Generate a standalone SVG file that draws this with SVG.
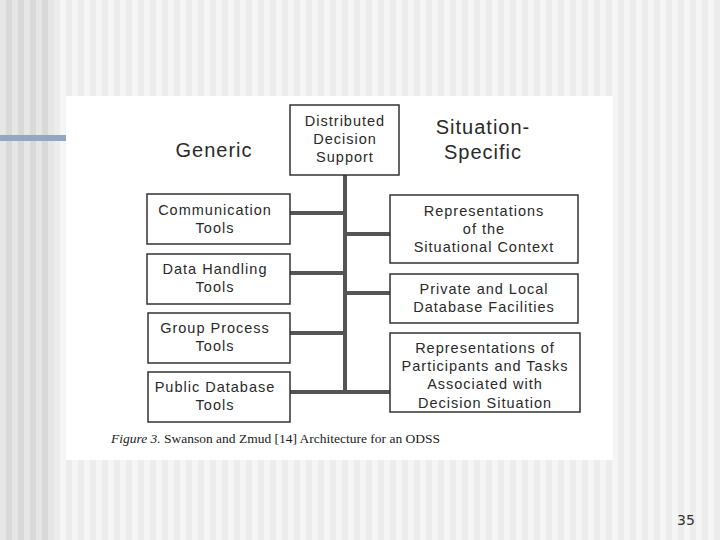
<svg xmlns="http://www.w3.org/2000/svg" width="720" height="540" viewBox="0 0 720 540">
<defs>
<pattern id="stripesDark" x="0" y="0" width="12" height="540" patternUnits="userSpaceOnUse">
<rect x="0" y="0" width="6" height="540" fill="#e6e6e6"/>
<rect x="6" y="0" width="6" height="540" fill="#d9d9d9"/>
</pattern>
<pattern id="stripesLight" x="0" y="0" width="12" height="540" patternUnits="userSpaceOnUse">
<rect x="0" y="0" width="6" height="540" fill="#f5f5f5"/>
<rect x="6" y="0" width="6" height="540" fill="#ececec"/>
</pattern>
<style>
.box{fill:#ffffff;stroke:#333333;stroke-width:1.5}
.t{font-family:"Liberation Sans",Arial,sans-serif;font-size:14.5px;letter-spacing:1px;fill:#2a2a2a;text-anchor:middle}
.big{font-family:"Liberation Sans",Arial,sans-serif;font-size:20px;letter-spacing:1px;fill:#2a2a2a;text-anchor:middle}
.conn{stroke:#555555;stroke-width:4;fill:none}
.cap{font-family:"Liberation Serif","Times New Roman",serif;font-size:13.5px;fill:#222222}
</style>
</defs>
<rect x="0" y="0" width="720" height="540" fill="url(#stripesLight)"/>
<rect x="0" y="0" width="54" height="540" fill="url(#stripesDark)"/>
<rect x="0" y="135" width="66" height="6" fill="#91a7c2"/>
<rect x="66" y="96" width="547" height="364" fill="#ffffff"/>

<g id="connectors">
<line class="conn" x1="345" y1="175" x2="345" y2="392"/>
<line class="conn" x1="290" y1="213" x2="345" y2="213"/>
<line class="conn" x1="290" y1="273" x2="345" y2="273"/>
<line class="conn" x1="290" y1="333" x2="345" y2="333"/>
<line class="conn" x1="290" y1="392" x2="390" y2="392"/>
<line class="conn" x1="345" y1="234" x2="390" y2="234"/>
<line class="conn" x1="345" y1="293" x2="390" y2="293"/>
</g>

<g id="label-generic"><text class="big" x="214" y="157">Generic</text></g>
<g id="label-situation"><text class="big" x="483" y="134">Situation-</text><text class="big" x="483" y="159">Specific</text></g>

<g id="dds"><rect class="box" x="290" y="105" width="109" height="70"/>
<text class="t" x="345" y="126">Distributed</text><text class="t" x="345" y="144">Decision</text><text class="t" x="345" y="162">Support</text></g>

<g id="communication"><rect class="box" x="147" y="194" width="143" height="50"/>
<text class="t" x="215" y="215">Communication</text><text class="t" x="215" y="233">Tools</text></g>
<g id="datahandling"><rect class="box" x="147" y="254" width="143" height="50"/>
<text class="t" x="215" y="274">Data Handling</text><text class="t" x="215" y="292">Tools</text></g>
<g id="groupprocess"><rect class="box" x="148" y="313" width="142" height="50"/>
<text class="t" x="215" y="333">Group Process</text><text class="t" x="215" y="351">Tools</text></g>
<g id="publicdb"><rect class="box" x="148" y="372" width="142" height="50"/>
<text class="t" x="215" y="392">Public Database</text><text class="t" x="215" y="410">Tools</text></g>

<g id="situational"><rect class="box" x="390" y="195" width="188" height="68"/>
<text class="t" x="484" y="216">Representations</text><text class="t" x="484" y="234">of the</text><text class="t" x="484" y="252">Situational Context</text></g>
<g id="privatedb"><rect class="box" x="390" y="274" width="188" height="49"/>
<text class="t" x="484" y="294">Private and Local</text><text class="t" x="484" y="312">Database Facilities</text></g>
<g id="participants"><rect class="box" x="390" y="333" width="190" height="79"/>
<text class="t" x="485" y="353">Representations of</text><text class="t" x="485" y="371">Participants and Tasks</text><text class="t" x="485" y="389">Associated with</text><text class="t" x="485" y="408">Decision Situation</text></g>

<g id="caption"><text class="cap" x="111" y="443" textLength="329" lengthAdjust="spacing"><tspan font-style="italic">Figure 3.</tspan> Swanson and Zmud [14] Architecture for an ODSS</text></g>
<g id="pagenum"><text x="677" y="525" style="font-family:'DejaVu Sans',sans-serif;font-size:14px;fill:#333333">35</text></g>
</svg>
